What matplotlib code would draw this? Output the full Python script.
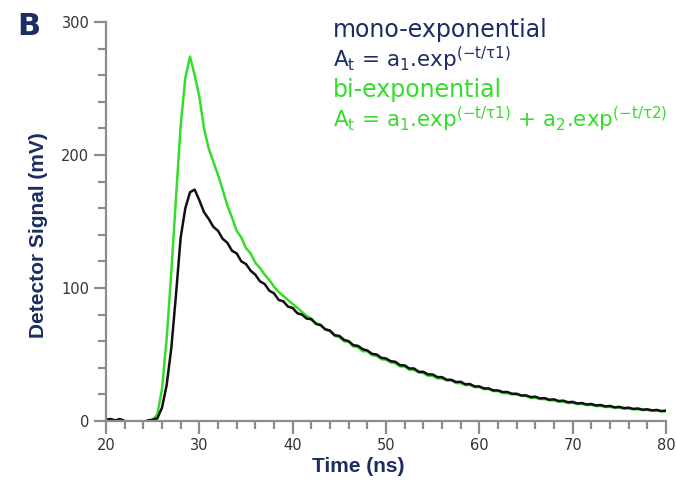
import numpy as np
import matplotlib
matplotlib.use("Agg")
import matplotlib.pyplot as plt
from matplotlib.ticker import MultipleLocator

# ---- data ----
time_ns = [20.0 + 0.5 * i for i in range(121)]

mono_signal = [
    1.0, 1.5, 0.5, 1.5, 0.0, -1, -1, -1, -1, 0.5,          # 20.0 - 24.5
    1.0, 2, 10, 27, 55, 95, 138, 160, 172, 174,            # 25.0 - 29.5
    166, 157, 152, 146, 143, 137, 134, 128, 126, 120,      # 30.0 - 34.5
    118, 113, 110, 105, 103, 98, 96, 91, 90, 86,           # 35.0 - 39.5
    85, 81, 80, 77, 76.5, 73, 72, 69, 68, 64.5,            # 40.0 - 44.5
    64, 61, 60, 57, 56.5, 54, 53, 50.5, 50, 47.5,          # 45.0 - 49.5
    47, 45, 44.5, 42, 41.8, 39.5, 39.5, 37, 37, 35,        # 50.0 - 54.5
    35, 33, 33, 31, 31, 29.3, 29.5, 27.6, 27.8, 26,        # 55.0 - 59.5
    26, 24.5, 24.5, 23, 23, 21.8, 21.8, 20.5, 20.5, 19.2,  # 60.0 - 64.5
    19.3, 18, 18.3, 17, 17.2, 16, 16.3, 15, 15.3, 14.1,    # 65.0 - 69.5
    14.4, 13.2, 13.5, 12.4, 12.8, 11.7, 12, 11, 11.3, 10.3,  # 70.0 - 74.5
    10.6, 9.7, 10, 9.1, 9.4, 8.5, 8.8, 8, 8.3, 7.5,        # 75.0 - 79.5
    7.8,                                                   # 80.0
]

bi_signal = [
    -1, -1, -1, -1, -1, -1, -1, -1, -1, -1,                # 20.0 - 24.5
    1, 5, 24, 62, 112, 168, 222, 258, 274, 260,            # 25.0 - 29.5
    244, 220, 205, 195, 185, 174, 162, 153, 143, 138,      # 30.0 - 34.5
    130, 126, 119, 115, 110, 106, 101, 97, 94, 91,         # 35.0 - 39.5
    88, 85, 82, 79, 77, 73.5, 72.5, 68.5, 67.5, 64,        # 40.0 - 44.5
    63, 60, 59.5, 56, 55.5, 52.5, 52.5, 49.5, 49, 46.5,    # 45.0 - 49.5
    46, 44, 43.5, 41, 41, 38.5, 38.5, 36.5, 36, 34,        # 50.0 - 54.5
    34, 32, 32, 30.5, 30.5, 28.5, 28.5, 27, 27, 25.5,      # 55.0 - 59.5
    25.5, 24, 24, 22.5, 22.5, 21, 21, 20, 20, 19,          # 60.0 - 64.5
    18.7, 17.5, 17.5, 16.5, 16.5, 15.5, 15.5, 14.5, 14.5, 13.5,  # 65.0 - 69.5
    13.6, 12.7, 12.8, 12, 12, 11.2, 11.3, 10.5, 10.6, 9.9,  # 70.0 - 74.5
    10, 9.3, 9.4, 8.8, 8.8, 8.2, 8.3, 7.7, 7.8, 7.2,       # 75.0 - 79.5
    7.4,                                                   # 80.0
]

x_ticks = [20, 30, 40, 50, 60, 70, 80]
y_ticks = [0, 100, 200, 300]

navy = "#1b2d62"
green = "#36dc2c"
axis_gray = "#8c8c8c"

plt.rcParams["mathtext.fontset"] = "dejavusans"

fig = plt.figure(figsize=(6.77, 4.82), dpi=100)
W, H = 677, 482
ax = fig.add_axes([106 / W, 1 - 421 / H, (666 - 106) / W, (421 - 22) / H])

ax.plot(time_ns, bi_signal, color=green, lw=1.8, solid_joinstyle="round")
ax.plot(time_ns, mono_signal, color="#111111", lw=1.8, solid_joinstyle="round")

ax.set_xlim(20, 80)
ax.set_ylim(0, 300)
ax.set_xticks(x_ticks)
ax.set_yticks(y_ticks)
ax.xaxis.set_minor_locator(MultipleLocator(2))
ax.yaxis.set_minor_locator(MultipleLocator(20))

for s in ["top", "right"]:
    ax.spines[s].set_visible(False)
for s in ["left", "bottom"]:
    ax.spines[s].set_color(axis_gray)
    ax.spines[s].set_linewidth(1.6)

ax.tick_params(which="major", direction="out", length=9, width=1.6,
               color=axis_gray, labelsize=10.5, labelcolor="#333333", pad=3)
ax.tick_params(which="minor", direction="out", length=6, width=1.6,
               color=axis_gray)
for lab in ax.get_xticklabels() + ax.get_yticklabels():
    lab.set_family("DejaVu Sans")

ax.set_xlabel("Time (ns)", fontsize=15, fontweight="bold", color=navy,
              family="Liberation Sans")
ax.set_ylabel("Detector Signal (mV)", fontsize=15, fontweight="bold",
              color=navy, family="Liberation Sans")
ax.xaxis.set_label_coords((358 - 106) / 560, (421 - 457) / 399)
ax.yaxis.set_label_coords((48 - 106) / 560, (421 - 235) / 399)

fig.text(17 / W, 1 - 35 / H, "B", fontsize=22, fontweight="bold",
         color=navy, family="DejaVu Sans", va="baseline", ha="left")

tx = 333 / W
fs_word = 17
fs_eq = 15.5
fig.text(tx, 1 - 37 / H, "mono-exponential", fontsize=fs_word, color=navy,
         family="DejaVu Sans", va="baseline")
fig.text(tx, 1 - 67 / H, r"A$_\mathrm{t}$ = a$_\mathrm{1}$.exp$^\mathrm{(-t/\tau1)}$",
         fontsize=fs_eq, color=navy, family="DejaVu Sans", va="baseline")
fig.text(tx, 1 - 97 / H, "bi-exponential", fontsize=fs_word, color=green,
         family="DejaVu Sans", va="baseline")
fig.text(tx, 1 - 127 / H,
         r"A$_\mathrm{t}$ = a$_\mathrm{1}$.exp$^\mathrm{(-t/\tau1)}$ + a$_\mathrm{2}$.exp$^\mathrm{(-t/\tau2)}$",
         fontsize=fs_eq, color=green, family="DejaVu Sans", va="baseline")

fig.savefig("out.png", dpi=100)
